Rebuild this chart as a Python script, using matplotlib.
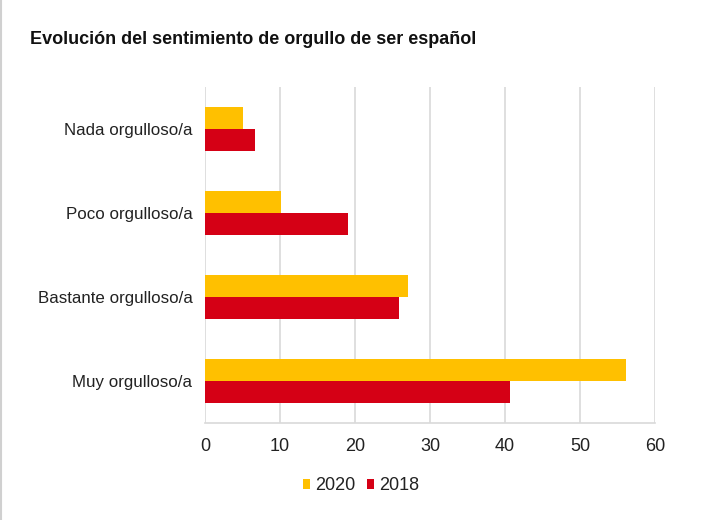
import matplotlib
matplotlib.use("Agg")
import matplotlib.pyplot as plt
from matplotlib.lines import Line2D
import numpy as np

categories = ["Muy orgulloso/a", "Bastante orgulloso/a", "Poco orgulloso/a", "Nada orgulloso/a"]
values_2020 = [56.1, 27.0, 10.1, 5.0]
values_2018 = [40.6, 25.8, 19.1, 6.6]
xticks = [0, 10, 20, 30, 40, 50, 60]

FONT = ["Liberation Sans", "DejaVu Sans"]
plt.rcParams["font.family"] = FONT

fig = plt.figure(figsize=(7.2, 5.2), dpi=100)
ax = fig.add_axes([205/720, 1 - 423/520, 450/720, 336/520])

y = np.arange(len(categories))
h = 0.262
ax.barh(y + h/2, values_2020, height=h, color="#FFC000", label="2020", zorder=3)
ax.barh(y - h/2, values_2018, height=h, color="#D50015", label="2018", zorder=3)

ax.set_ylim(-0.5, 3.5)
ax.set_xlim(0, 60)
ax.set_xticks(xticks)
ax.set_xticklabels([str(t) for t in xticks], fontsize=13, color="#222222")
ax.set_yticks(y)
ax.set_yticklabels(categories, fontsize=12.2, color="#222222")
ax.tick_params(axis="both", length=0)
ax.tick_params(axis="y", pad=9)
ax.tick_params(axis="x", pad=11)
ax.grid(axis="x", color="#D9D9D9", linewidth=1.2, zorder=0)
for s in ["top", "right", "left"]:
    ax.spines[s].set_visible(False)
ax.spines["bottom"].set_color("#D9D9D9")
ax.spines["bottom"].set_linewidth(1.2)

fig.text(30/720, 1 - 39/520, "Evolución del sentimiento de orgullo de ser español",
         fontsize=13, fontweight="bold", va="center", ha="left", color="#111111")

leg = fig.legend(loc="center", bbox_to_anchor=(361/720, 1 - 486/520), ncol=2,
                 frameon=False, fontsize=13, handlelength=0.4, handleheight=0.4,
                 handletextpad=0.25, columnspacing=0.65)
for t in leg.get_texts():
    t.set_color("#222222")

fig.add_artist(Line2D([0.5/720, 0.5/720], [0, 1], color="#D0D0D0", linewidth=1.5,
                      transform=fig.transFigure))

fig.savefig("out.png", dpi=100)
